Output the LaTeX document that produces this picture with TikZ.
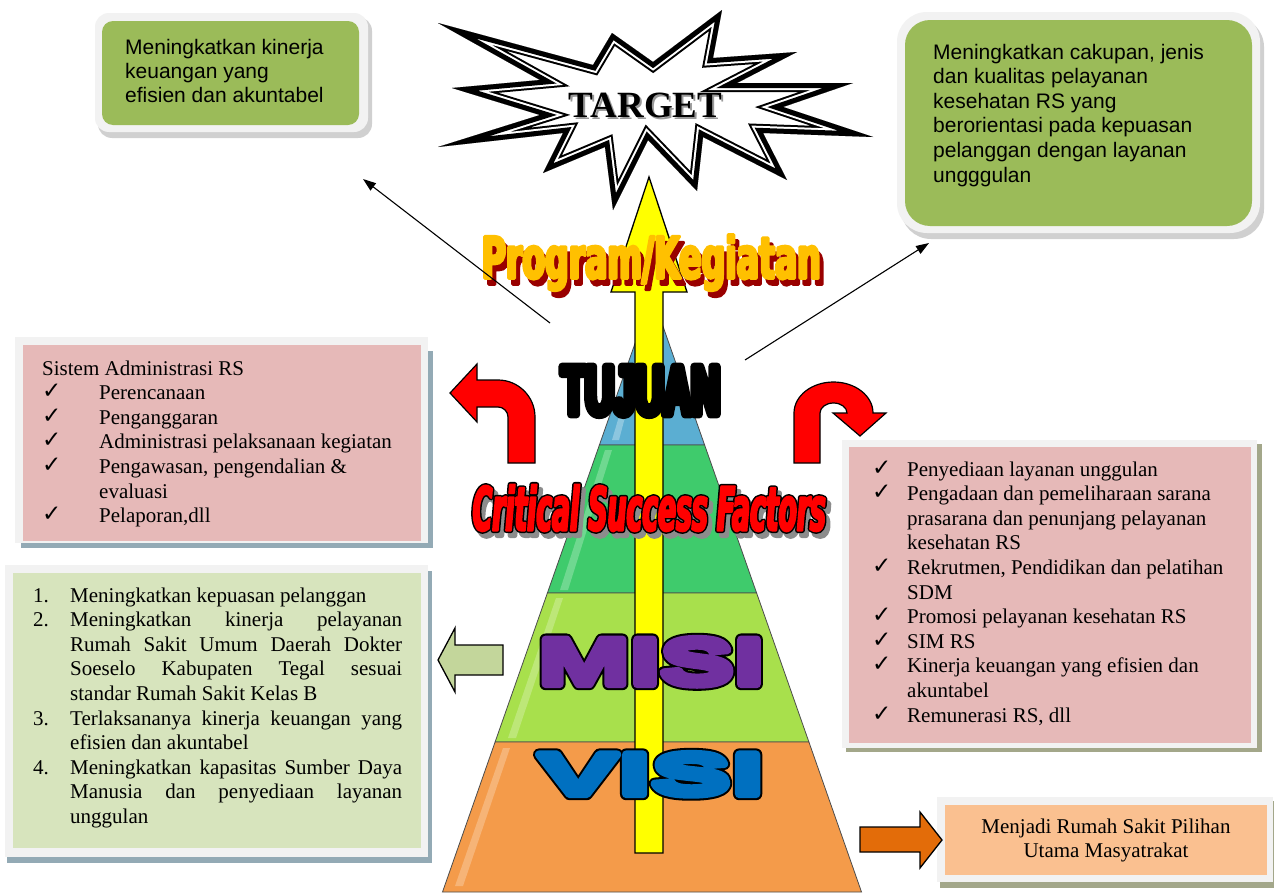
\documentclass[tikz,border=0pt]{standalone}
\usepackage{fontspec}
\usepackage{graphicx}
\setmainfont{Liberation Serif}
\newfontfamily\arialf{Liberation Sans}
\newfontfamily\symf{DejaVu Sans}
\newfontfamily\tujf[FakeStretch=0.58]{Liberation Sans}
\newfontfamily\progf[FakeStretch=0.585]{DejaVu Sans}
\newfontfamily\csff[FakeStretch=0.437]{DejaVu Sans}
\newfontfamily\misif[FakeStretch=1.75]{Liberation Sans}
\newfontfamily\visif[FakeStretch=2.14]{Liberation Sans}
\usetikzlibrary{arrows.meta}
\definecolor{boxgreen}{HTML}{9BBB59}
\definecolor{lightborder}{HTML}{F2F2F2}
\definecolor{pinkfill}{HTML}{E6B9B8}
\definecolor{misigreen}{HTML}{D7E4BD}
\definecolor{shadowblue}{HTML}{93AAB5}
\definecolor{shadowolive}{HTML}{A3A78A}
\definecolor{orangebox}{HTML}{FAC090}
\definecolor{orangearrow}{HTML}{E36C09}
\definecolor{arrowgreen}{HTML}{C3D69B}
\definecolor{tierblue}{HTML}{5BAED2}
\definecolor{tiergreen}{HTML}{3FCB6C}
\definecolor{tierlime}{HTML}{A8E04C}
\definecolor{tierorange}{HTML}{F49B4A}
\definecolor{misipurple}{HTML}{7030A0}
\definecolor{visiblue}{HTML}{0070C0}
\definecolor{progorange}{HTML}{FFC000}
\definecolor{progshadow}{HTML}{990000}
\definecolor{csfshadow}{HTML}{8C8C8C}
\definecolor{arrowyellow}{HTML}{FFFF00}

% stroked (emboldened / outlined) text: #1 stroke rgb, #2 line width, #3 text
\newcommand\strk[3]{\special{pdf:literal direct #1 RG #2 w 2 Tr 1 j 1 J}#3\special{pdf:literal direct 0 Tr}}
\newcommand\tujtxt{\resizebox{158pt}{48pt}{\tujf\bfseries\fontsize{67}{67}\selectfont\strk{0 0 0}{7.5}{TUJUAN}}}
\newcommand\progtxt[1]{\resizebox*{339pt}{56pt}{\progf\bfseries\fontsize{56.5}{57}\selectfont\strk{#1}{3}{Program/Kegiatan}}}
\newcommand\csftxt[2]{\resizebox{353pt}{46pt}{\csff\bfseries\itshape\fontsize{60.5}{61}\selectfont\strk{#1}{#2}{Critical Success Factors}}}
\newcommand\misitxt[2]{\resizebox{226pt}{45pt}{\misif\bfseries\fontsize{62.8}{63}\selectfont\strk{#1}{#2}{MISI}}}
\newcommand\visitxt[2]{\resizebox{226pt}{40pt}{\visif\bfseries\fontsize{55.9}{56}\selectfont\strk{#1}{#2}{VISI}}}

\newcommand\ck{\makebox[57pt][l]{\raisebox{1pt}{\symf\fontsize{23}{23}\selectfont ✓}}}
\newcommand\ckr{\makebox[35pt][l]{\raisebox{1pt}{\symf\fontsize{23}{23}\selectfont ✓}}}
\newcommand\nm[1]{\makebox[37pt][l]{#1}}
\newcommand\jl[1]{\makebox[332pt][s]{#1}}

\begin{document}
\begin{tikzpicture}[x=1pt,y=-1pt,
  txt/.style={inner sep=0pt, text=black},
  wa/.style={inner sep=0pt},
  conn/.style={line width=1.1pt, -{Triangle[length=13pt,width=9pt]}},
  tier/.style={draw=black!70, line width=0.8pt},
  redarrow/.style={fill=red, draw=black, line width=1.2pt, line join=miter},
  blockarrow/.style={draw=black, line width=1.3pt, line join=miter}]
\useasboundingbox (0,0) rectangle (1274,894);
\fill[white] (0,0) rectangle (1274,894);

% ---------- top green boxes ----------
\fill[black!30, opacity=0.6, rounded corners=14pt] (98,17) rectangle (372,138);
\fill[lightborder, rounded corners=14pt] (95,13) rectangle (368,132);
\fill[boxgreen, rounded corners=11pt] (102,21) rectangle (359,125);
\node[txt, anchor=base west] (gl) at (125,54) {\parbox[t]{250pt}{\raggedright\arialf\fontsize{21}{24.3}\selectfont Meningkatkan kinerja\\ keuangan yang\\ efisien dan akuntabel}};

\fill[black!30, opacity=0.6, rounded corners=30pt] (901,17) rectangle (1264,239);
\fill[lightborder, rounded corners=30pt] (897,12) rectangle (1260,233);
\fill[boxgreen, rounded corners=25pt] (905,20) rectangle (1252,226);
\node[txt, anchor=base west] (gr) at (933,59) {\parbox[t]{320pt}{\raggedright\arialf\fontsize{21}{24.6}\selectfont Meningkatkan cakupan, jenis\\ dan kualitas pelayanan\\ kesehatan RS yang\\ berorientasi pada kepuasan\\ pelanggan dengan layanan\\ ungggulan}};

% ---------- TARGET star ----------
\def\starpath{(438,23) -- (593,65) -- (612,33) -- (653,62) -- (722,10) -- (713,58) -- (797,52) -- (737,83) -- (853,83) -- (783,107) -- (873,137) -- (763,133) -- (787,180) -- (703,137) -- (697,191) -- (648,140) -- (613,210) -- (605,147) -- (543,173) -- (563,133) -- (438,147) -- (540,115) -- (452,88) -- (540,80) -- cycle}
\begin{scope}
  \clip \starpath;
  \fill[white] \starpath;
  \draw[black, line width=18pt] \starpath;
  \draw[white, line width=14pt] \starpath;
  \draw[black, line width=10pt] \starpath;
\end{scope}
\node[txt, anchor=base, text=black!40] (target-sh) at (647.5,119) {\bfseries\fontsize{37}{37}\selectfont TARGET};
\node[txt, anchor=base] (target) at (645.5,117) {\bfseries\fontsize{37}{37}\selectfont TARGET};

% ---------- left pink box ----------
\fill[shadowblue] (21,351) rectangle (433,548);
\fill[lightborder] (15,337) rectangle (428,543);
\fill[pinkfill] (23,345) rectangle (421,541);
\node[txt, anchor=base west] (admin) at (42,375) {\parbox[t]{390pt}{\raggedright\fontsize{21}{24.6}\selectfont Sistem Administrasi RS\\ \ck Perencanaan\\ \ck Penganggaran\\ \ck Administrasi pelaksanaan kegiatan\\ \ck Pengawasan, pengendalian \&\\ \hspace*{57pt}evaluasi\\ \ck Pelaporan,dll}};

% ---------- left green box (misi) ----------
\fill[shadowblue] (7,571) rectangle (432,863);
\fill[lightborder] (5,565) rectangle (428,857);
\fill[misigreen] (13,573) rectangle (421,848);
\node[txt, anchor=base west] (misilist) at (33,602) {\parbox[t]{390pt}{\raggedright\fontsize{21}{24.6}\selectfont
\nm{1.}Meningkatkan kepuasan pelanggan\\
\nm{2.}\jl{Meningkatkan kinerja pelayanan}\\
\hspace*{37pt}\jl{Rumah Sakit Umum Daerah Dokter}\\
\hspace*{37pt}\jl{Soeselo Kabupaten Tegal sesuai}\\
\hspace*{37pt}standar Rumah Sakit Kelas B\\
\nm{3.}\jl{Terlaksananya kinerja keuangan yang}\\
\hspace*{37pt}efisien dan akuntabel\\
\nm{4.}\jl{Meningkatkan kapasitas Sumber Daya}\\
\hspace*{37pt}\jl{Manusia dan penyediaan layanan}\\
\hspace*{37pt}unggulan}};

% ---------- right pink box ----------
\fill[shadowolive] (846,444) rectangle (1262,752);
\fill[lightborder] (842,440) rectangle (1257,748);
\fill[pinkfill] (849,447) rectangle (1251,743);
\node[txt, anchor=base west] (csflist) at (872,476) {\parbox[t]{390pt}{\raggedright\fontsize{21}{24.6}\selectfont
\ckr Penyediaan layanan unggulan\\
\ckr Pengadaan dan pemeliharaan sarana\\
\hspace*{35pt}prasarana dan penunjang pelayanan\\
\hspace*{35pt}kesehatan RS\\
\ckr Rekrutmen, Pendidikan dan pelatihan\\
\hspace*{35pt}SDM\\
\ckr Promosi pelayanan kesehatan RS\\
\ckr SIM RS\\
\ckr Kinerja keuangan yang efisien dan\\
\hspace*{35pt}akuntabel\\
\ckr Remunerasi RS, dll}};

% ---------- bottom right box (visi) ----------
\fill[shadowolive] (940,801) rectangle (1274,888);
\fill[lightborder] (937,797) rectangle (1273,882);
\fill[orangebox] (945,805) rectangle (1267,875);
\node[txt, anchor=base] (visibox) at (1106,833) {\parbox[t]{320pt}{\centering\fontsize{21}{24.6}\selectfont Menjadi Rumah Sakit Pilihan\\ Utama Masyatrakat}};

% ---------- pyramid ----------
\fill[tierblue, tier] (652,295) -- (704.6,445) -- (599.4,445) -- cycle;
\fill[tiergreen, tier] (599.4,445) -- (704.6,445) -- (756.6,593) -- (547.4,593) -- cycle;
\fill[tierlime, tier] (547.4,593) -- (756.6,593) -- (808.9,742) -- (495.1,742) -- cycle;
\fill[tierorange, tier] (495.1,742) -- (808.9,742) -- (861.5,892) -- (442.5,892) -- cycle;
\fill[white, opacity=0.3] (612,440) -- (640,345) -- (644,345) -- (619,440) -- cycle;
\fill[white, opacity=0.25] (560,590) -- (605,450) -- (612,450) -- (568,590) -- cycle;
\fill[white, opacity=0.25] (508,738) -- (556,598) -- (563,598) -- (516,738) -- cycle;
\fill[white, opacity=0.25] (455,886) -- (503,748) -- (510,748) -- (463,886) -- cycle;

% ---------- yellow arrow ----------
\fill[arrowyellow, blockarrow] (635,853) -- (635,292) -- (611,292) -- (649,177) -- (687,292) -- (663,292) -- (663,853) -- cycle;

% ---------- red bent arrows ----------
\fill[redarrow] (535,463) -- (535,417) .. controls (535,396.6) and (518.4,380) .. (498,380) -- (477,380) -- (477,364) -- (450,393) -- (477,422) -- (477,407) -- (498,407) .. controls (503.5,407) and (508,411.5) .. (508,417) -- (508,463) -- cycle;
\fill[redarrow] (794,463) -- (794,413) .. controls (794,395.9) and (811.7,382) .. (833.5,382) .. controls (855.3,382) and (873,395.9) .. (873,413) -- (886,413) -- (860,436) -- (833,413) -- (847,413) .. controls (847,407.5) and (841,403) .. (833.5,403) .. controls (826,403) and (820,407.5) .. (820,413) -- (820,463) -- cycle;

% ---------- side block arrows ----------
\fill[arrowgreen, blockarrow] (503,645) -- (455,645) -- (455,628) -- (438,660) -- (455,692) -- (455,675) -- (503,675) -- cycle;
\fill[orangearrow, blockarrow] (860,827) -- (920,827) -- (920,812) -- (942,840) -- (920,868) -- (920,852) -- (860,852) -- cycle;

% ---------- big word-art texts ----------
\node[wa, anchor=base west, text=black] (tujuan) at (561.5,414.5) {\tujtxt};
\node[wa, anchor=base west, text=csfshadow] (csf-sh) at (476.5,535.5) {\csftxt{0.55 0.55 0.55}{5}};
\node[wa, anchor=base west, text=black] (csf-ol) at (472.5,530.5) {\csftxt{0 0 0}{5}};
\node[wa, anchor=base west, text=red] (csf) at (472.5,530.5) {\csftxt{1 0 0}{2}};
\node[wa, anchor=base west, text=black] (misi-ol) at (538,684) {\misitxt{0 0 0}{12}};
\node[wa, anchor=base west, text=misipurple] (misi) at (538,684) {\misitxt{0.439 0.188 0.627}{8}};
\node[wa, anchor=base west, text=black] (visi-ol) at (538,794) {\visitxt{0 0 0}{12}};
\node[wa, anchor=base west, text=visiblue] (visi) at (538,794) {\visitxt{0 0.439 0.753}{8}};
\node[wa, anchor=north west, text=progshadow] (prog-sh) at (485.5,240.5) {\progtxt{0.6 0 0}};
\node[wa, anchor=north west, text=progorange] (prog) at (481.5,234.5) {\progtxt{1 0.753 0}};

% ---------- thin connectors ----------
\coordinate (la-s) at (550,323);
\coordinate (la-e) at (363,179);
\coordinate (ra-s) at (745,360);
\coordinate (ra-e) at (929,243);
\draw[conn] (la-s) -- (la-e);
\draw[conn] (ra-s) -- (ra-e);
\end{tikzpicture}
\end{document}
